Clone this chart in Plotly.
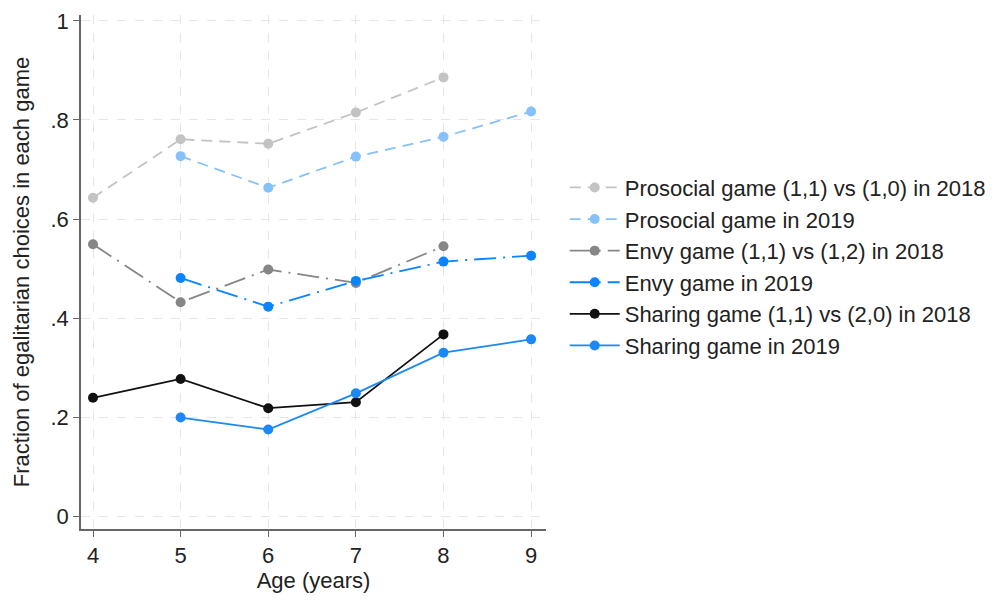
import plotly.graph_objects as go

ages_2018 = [4, 5, 6, 7, 8]
ages_2019 = [5, 6, 7, 8, 9]

prosocial_2018 = [0.643, 0.761, 0.752, 0.815, 0.886]
prosocial_2019 = [0.727, 0.663, 0.726, 0.766, 0.817]
envy_2018 = [0.549, 0.432, 0.498, 0.471, 0.545]
envy_2019 = [0.481, 0.423, 0.475, 0.514, 0.526]
sharing_2018 = [0.239, 0.277, 0.218, 0.230, 0.367]
sharing_2019 = [0.199, 0.175, 0.248, 0.330, 0.357]

y_tickvals = [0, 0.2, 0.4, 0.6, 0.8, 1]
y_ticktext = ["0", ".2", ".4", ".6", ".8", "1"]
x_tickvals = [4, 5, 6, 7, 8, 9]

series = [
    ("Prosocial game (1,1) vs (1,0) in 2018", ages_2018, prosocial_2018, "#c3c3c3", "11px,7px"),
    ("Prosocial game in 2019", ages_2019, prosocial_2019, "#86c1fb", "11px,7px"),
    ("Envy game (1,1) vs (1,2) in 2018", ages_2018, envy_2018, "#868686", "22px,7px,2px,7px"),
    ("Envy game in 2019", ages_2019, envy_2019, "#0a84ff", "22px,7px,2px,7px"),
    ("Sharing game (1,1) vs (2,0) in 2018", ages_2018, sharing_2018, "#111111", "solid"),
    ("Sharing game in 2019", ages_2019, sharing_2019, "#1a88f7", "solid"),
]

fig = go.Figure()
for i, (name, xs, ys, color, dash) in enumerate(series):
    fig.add_trace(go.Scatter(
        x=xs, y=ys, name=name, mode="lines+markers",
        line=dict(color=color, width=1.8, dash=dash),
        marker=dict(color=color, size=10),
        legendgroup=f"g{i}",
    ))

font_family = "Liberation Sans, Arial, Helvetica, sans-serif"
FS = 22
fig.update_layout(
    width=989, height=585,
    margin=dict(l=73, r=450, t=7, b=64),
    paper_bgcolor="white", plot_bgcolor="white",
    font=dict(family=font_family, size=FS, color="#222222"),
    showlegend=True,
    legend=dict(
        x=1.038, y=0.705, xanchor="left", yanchor="top",
        font=dict(size=FS, color="#222222"),
        tracegroupgap=0,
        itemwidth=50,
        bgcolor="rgba(0,0,0,0)",
    ),
    xaxis=dict(
        range=[3.863, 9.17],
        tickvals=x_tickvals,
        showgrid=True, gridcolor="#e6e6e6", griddash="dash", gridwidth=1,
        showline=True, linecolor="#666666", linewidth=1.5,
        ticks="outside", ticklen=6, tickcolor="#666666",
        zeroline=False, automargin=False,
        title=dict(text="Age (years)", font=dict(size=FS), standoff=5),
        tickfont=dict(size=FS),
    ),
    yaxis=dict(
        range=[-0.026, 1.012],
        tickvals=y_tickvals, ticktext=y_ticktext,
        showgrid=True, gridcolor="#e6e6e6", griddash="dash", gridwidth=1,
        showline=True, linecolor="#666666", linewidth=1.5,
        ticks="outside", ticklen=6, tickcolor="#666666",
        zeroline=False, automargin=False,
        title=dict(text="Fraction of egalitarian choices in each game", font=dict(size=FS), standoff=15),
        tickfont=dict(size=FS),
    ),
)

fig.write_html("out.html")
